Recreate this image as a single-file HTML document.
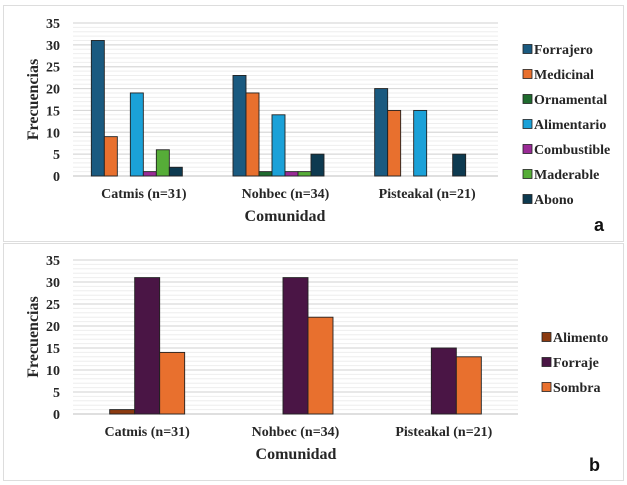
<!DOCTYPE html>
<html><head><meta charset="utf-8"><style>
body{margin:0;background:#fff;width:627px;height:485px;overflow:hidden}
svg{display:block}
text{font-family:"Liberation Serif",serif;font-weight:bold;fill:#262626}
</style></head><body>
<svg id="s" width="627" height="485">
<rect x="3.5" y="5.5" width="620" height="236" fill="#fff" stroke="#ddd"/>
<rect x="3.5" y="243.5" width="620" height="237" fill="#fff" stroke="#ddd"/>
</svg>
<script>
const categories=["Catmis (n=31)","Nohbec (n=34)","Pisteakal (n=21)"];
const seriesA=["Forrajero","Medicinal","Ornamental","Alimentario","Combustible","Maderable","Abono"];
const colorsA=["#1a5a80","#e8702e","#1f6b2e","#1ba1d8","#9a2b96","#56ad38","#0d3a50"];
const forrajero=[31,23,20];
const medicinal=[9,19,15];
const ornamental=[0,1,0];
const alimentario=[19,14,15];
const combustible=[1,1,0];
const maderable=[6,1,0];
const abono=[2,5,5];
const valuesA=[forrajero,medicinal,ornamental,alimentario,combustible,maderable,abono];
const seriesB=["Alimento","Forraje","Sombra"];
const colorsB=["#8b3a10","#4a1545","#e8702e"];
const alimento=[1,0,0];
const forraje=[31,31,15];
const sombra=[14,22,13];
const valuesB=[alimento,forraje,sombra];
const yTicks=[0,5,10,15,20,25,30,35];

const svg=document.getElementById('s');
const NS="http://www.w3.org/2000/svg";
function mk(tag,attrs,parent){const e=document.createElementNS(NS,tag);for(const k in attrs)e.setAttribute(k,attrs[k]);(parent||svg).appendChild(e);return e;}

function panel(p,cfg){
  const g=mk('g',{});
  
  
  const y=v=>cfg.y0-(v/35)*(cfg.y0-cfg.y35);
  for(let v=1;v<35;v++){if(v%5){const l=mk('line',{x1:cfg.left,x2:cfg.right,y1:y(v),y2:y(v),stroke:'#eee','stroke-width':1},g);
    }}
  yTicks.forEach(t=>{
    const l=mk('line',{x1:cfg.left,x2:cfg.right,y1:y(t),y2:y(t),stroke:t?'#d9d9d9':'#ccc','stroke-width':1.2},g);
    
    const tx=mk('text',{x:60,y:y(t)+5,'text-anchor':'end','font-size':14},g);tx.textContent=t;
    
  });
  const gw=(cfg.right-cfg.left)/categories.length;
  const n=cfg.series.length;
  categories.forEach((c,i)=>{
    const start=cfg.left+gw*i+(gw-n*cfg.bw)/2+cfg.shift;
    cfg.values.forEach((arr,j)=>{
      const v=arr[i]; if(!v) return;
      const r=mk('rect',{x:start+j*cfg.bw,y:y(v),width:cfg.bw,height:y(0)-y(v),fill:cfg.colors[j],stroke:'#222','stroke-width':0.9},g);
      
      
    });
    const t=mk('text',{x:cfg.left+gw*(i+0.5),y:cfg.catY,'text-anchor':'middle','font-size':14},g);t.textContent=c;
    
  });
  const yt=mk('text',{x:0,y:0,'text-anchor':'middle','font-size':16,transform:`translate(38,${(cfg.y0+cfg.y35)/2}) rotate(-90)`},g);yt.textContent='Frecuencias';
  
  const xt=mk('text',{x:cfg.xtX,y:cfg.catY+23,'text-anchor':'middle','font-size':16},g);xt.textContent='Comunidad';
  
  cfg.series.forEach((s,j)=>{
    const ly=cfg.legY+j*cfg.legDy;
    const r=mk('rect',{x:cfg.legX,y:ly-4.5,width:9,height:9,fill:cfg.colors[j],stroke:'#222','stroke-width':0.8},g);
    
    const t=mk('text',{x:cfg.legX+11,y:ly+5,'font-size':14},g);t.textContent=s;
    
  });
  const lab=mk('text',{x:cfg.tagX,y:cfg.tagY,'font-size':18,style:'font-family:"Liberation Sans",sans-serif;fill:#111'},g);lab.textContent=p;
  
}
panel('a',{left:73,right:498,y0:176,y35:23,bw:13,shift:-7,series:seriesA,colors:colorsA,values:valuesA,catY:198,xtX:285,legX:523,legY:49,legDy:25,tagX:594,tagY:231});
panel('b',{left:73,right:518,y0:414,y35:260,bw:25,shift:0,series:seriesB,colors:colorsB,values:valuesB,catY:436,xtX:296,legX:542,legY:337,legDy:25,tagX:589,tagY:471});
</script>
</body></html>
